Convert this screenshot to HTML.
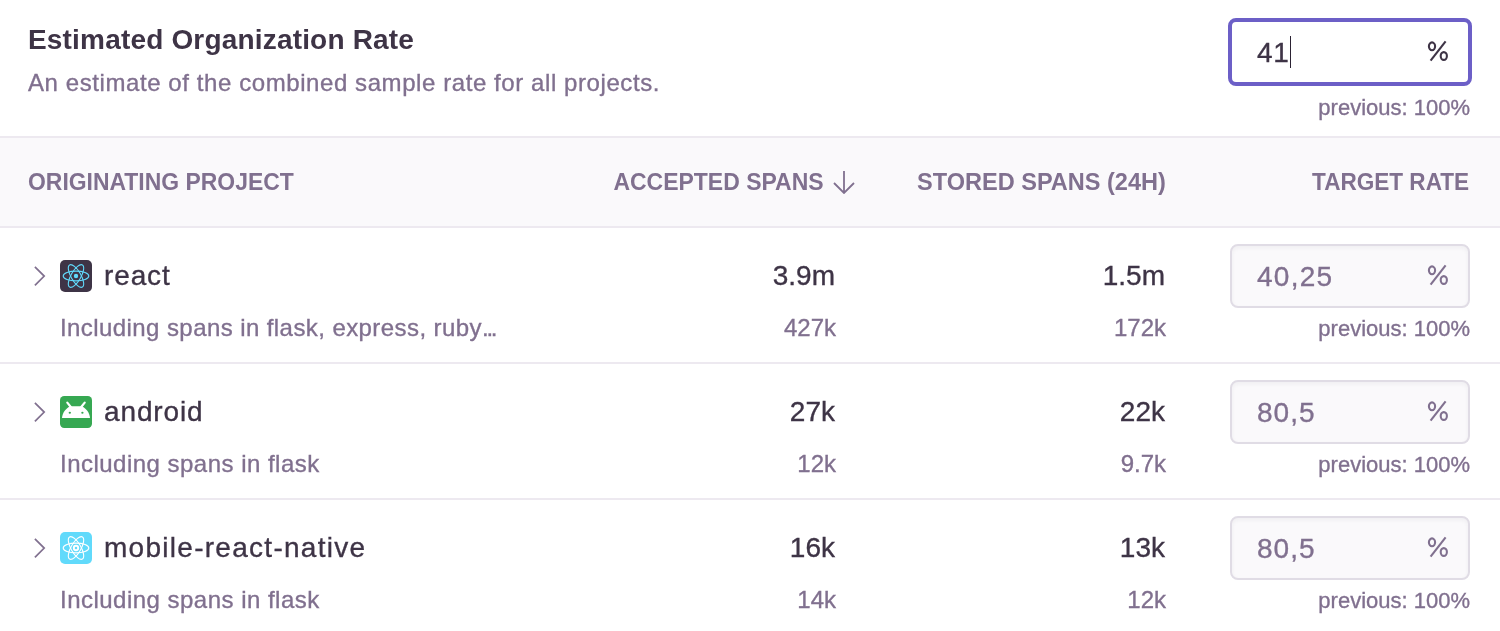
<!DOCTYPE html>
<html><head><meta charset="utf-8">
<style>
html,body{margin:0;padding:0;}
body{width:1500px;height:631px;overflow:hidden;background:#fff;position:relative;font-family:"Liberation Sans",sans-serif;color:#2B2233;}
.a{position:absolute;white-space:nowrap;line-height:1;}
.sw{-webkit-text-stroke:0.35px currentColor;}
.r{text-align:right;}
.hdrbg{position:absolute;left:0;top:136px;width:1500px;height:88px;background:#FAF9FB;border-top:2px solid #EDE9F0;border-bottom:2px solid #EDE9F0;}
.sep{position:absolute;left:0;width:1500px;height:2px;background:#EDE9F0;}
.title{left:28px;top:26px;font-size:28px;font-weight:bold;color:#3E3446;letter-spacing:0.18px;}
.sub{left:28px;top:71px;font-size:24px;color:#80708F;letter-spacing:0.58px;}
.th{top:170px;font-size:24px;font-weight:bold;color:#80708F;}
.name{font-size:28px;color:#3E3446;}
.desc{font-size:24px;color:#80708F;}
.num{font-size:28px;color:#3E3446;}
.snum{font-size:24px;color:#80708F;}
.inp{position:absolute;left:1230px;width:236px;height:60px;border:2px solid #E0DCE5;border-radius:8px;background:#FAF9FB;box-shadow:inset 0 2px 4px rgba(43,34,51,0.05);}
.finp{position:absolute;left:1228px;top:18px;width:236px;height:60px;border:4px solid #6C5FC7;border-radius:8px;background:#fff;}
.ival{font-size:28px;color:#80708F;}
.pct{transform:scaleX(0.87);transform-origin:left center;}
.prev{font-size:22px;color:#80708F;}
svg{position:absolute;}
#wrap{position:absolute;left:0;top:0;width:1500px;height:631px;overflow:hidden;will-change:transform;background:#fff;}
</style></head><body><div id="wrap">

<div class="a title">Estimated Organization Rate</div>
<div class="a sw sub">An estimate of the combined sample rate for all projects.</div>

<div class="finp"></div>
<div class="a sw ival" style="left:1257px;top:39px;color:#3E3446;letter-spacing:0.6px;">41</div>
<div style="position:absolute;left:1290px;top:36px;width:1px;height:32px;background:#2B2233;"></div>
<svg style="left:1426px;top:40px;" width="24" height="24" viewBox="0 0 24 24"><g fill="none" stroke="#3E3446" stroke-width="2.1"><ellipse cx="6" cy="6.3" rx="3.1" ry="3.9"/><ellipse cx="17.8" cy="16" rx="3.1" ry="3.9"/><path d="M4.6 20.6L19.6 1.4"/></g></svg>
<div class="a sw prev r" style="right:30px;top:97px;">previous: 100%</div>

<div class="hdrbg"></div>
<div class="a th" style="left:28px;transform:scaleX(0.955);transform-origin:left center;">ORIGINATING PROJECT</div>
<div class="a th r" style="right:676.5px;transform:scaleX(0.957);transform-origin:right center;">ACCEPTED SPANS</div>
<svg style="left:832px;top:170px;" width="24" height="24" viewBox="0 0 24 24"><path d="M12 1V23M2 13L12 23L22 13" fill="none" stroke="#80708F" stroke-width="1.8"/></svg>
<div class="a th r" style="right:334px;transform:scaleX(0.98);transform-origin:right center;">STORED SPANS (24H)</div>
<div class="a th r" style="right:31px;transform:scaleX(0.94);transform-origin:right center;">TARGET RATE</div>

<!-- row 1 -->
<svg style="left:28px;top:260px;" width="24" height="32" viewBox="0 0 24 32"><path d="M6.9 6.8L16.2 16.1L6.9 25.4" fill="none" stroke="#80708F" stroke-width="1.7"/></svg>
<svg style="left:60px;top:260px;" width="32" height="32" viewBox="0 0 32 32"><rect width="32" height="32" rx="5" fill="#3E3446"/><g fill="none" stroke="#61DAFB" stroke-width="1.1"><ellipse cx="16" cy="16" rx="12.8" ry="4.9"/><ellipse cx="16" cy="16" rx="12.8" ry="4.9" transform="rotate(60 16 16)"/><ellipse cx="16" cy="16" rx="12.8" ry="4.9" transform="rotate(120 16 16)"/></g><circle cx="16" cy="16" r="2.2" fill="#61DAFB"/></svg>
<div class="a sw name" style="left:104px;top:262px;letter-spacing:0.875px;">react</div>
<div class="a sw desc" style="left:60px;top:316px;letter-spacing:0.42px;">Including spans in flask, express, ruby<span style="letter-spacing:-2.2px">...</span></div>
<div class="a sw num r" style="right:665px;top:262px;">3.9m</div>
<div class="a sw snum r" style="right:664px;top:316px;">427k</div>
<div class="a sw num r" style="right:335px;top:262px;">1.5m</div>
<div class="a sw snum r" style="right:334px;top:316px;">172k</div>
<div class="inp" style="top:244px;"></div>
<div class="a sw ival" style="left:1257px;top:263px;letter-spacing:1.25px;">40,25</div>
<svg style="left:1426px;top:264px;" width="24" height="24" viewBox="0 0 24 24"><g fill="none" stroke="#80708F" stroke-width="2.1"><ellipse cx="6" cy="6.3" rx="3.1" ry="3.9"/><ellipse cx="17.8" cy="16" rx="3.1" ry="3.9"/><path d="M4.6 20.6L19.6 1.4"/></g></svg>
<div class="a sw prev r" style="right:30px;top:318px;">previous: 100%</div>
<div class="sep" style="top:362px;"></div>

<!-- row 2 -->
<svg style="left:28px;top:396px;" width="24" height="32" viewBox="0 0 24 32"><path d="M6.9 6.8L16.2 16.1L6.9 25.4" fill="none" stroke="#80708F" stroke-width="1.7"/></svg>
<svg style="left:60px;top:396px;" width="32" height="32" viewBox="0 0 32 32"><rect width="32" height="32" rx="4.2" fill="#36A852"/><path d="M2 22C2.5 17 5.5 12.5 10 10.6Q11 10.2 12.2 10.2H19.8Q21 10.2 22 10.6C26.5 12.5 29.5 17 30 22Z" fill="#fff"/><path d="M7.3 6.6L11 11.2M24.7 6.6L21 11.2" stroke="#fff" stroke-width="2.2" stroke-linecap="round"/><ellipse cx="9.8" cy="16.8" rx="1.15" ry="0.95" fill="#36A852"/><ellipse cx="22.4" cy="16.8" rx="1.15" ry="0.95" fill="#36A852"/></svg>
<div class="a sw name" style="left:104px;top:398px;letter-spacing:0.87px;">android</div>
<div class="a sw desc" style="left:60px;top:452px;letter-spacing:0.48px;">Including spans in flask</div>
<div class="a sw num r" style="right:665px;top:398px;">27k</div>
<div class="a sw snum r" style="right:664px;top:452px;">12k</div>
<div class="a sw num r" style="right:335px;top:398px;">22k</div>
<div class="a sw snum r" style="right:334px;top:452px;">9.7k</div>
<div class="inp" style="top:380px;"></div>
<div class="a sw ival" style="left:1257px;top:399px;letter-spacing:1.0px;">80,5</div>
<svg style="left:1426px;top:400px;" width="24" height="24" viewBox="0 0 24 24"><g fill="none" stroke="#80708F" stroke-width="2.1"><ellipse cx="6" cy="6.3" rx="3.1" ry="3.9"/><ellipse cx="17.8" cy="16" rx="3.1" ry="3.9"/><path d="M4.6 20.6L19.6 1.4"/></g></svg>
<div class="a sw prev r" style="right:30px;top:454px;">previous: 100%</div>
<div class="sep" style="top:498px;"></div>

<!-- row 3 -->
<svg style="left:28px;top:532px;" width="24" height="32" viewBox="0 0 24 32"><path d="M6.9 6.8L16.2 16.1L6.9 25.4" fill="none" stroke="#80708F" stroke-width="1.7"/></svg>
<svg style="left:60px;top:532px;" width="32" height="32" viewBox="0 0 32 32"><rect width="32" height="32" rx="5" fill="#61DAFB"/><g fill="none" stroke="#fff" stroke-width="1.1"><ellipse cx="16" cy="16" rx="12.8" ry="4.9"/><ellipse cx="16" cy="16" rx="12.8" ry="4.9" transform="rotate(60 16 16)"/><ellipse cx="16" cy="16" rx="12.8" ry="4.9" transform="rotate(120 16 16)"/></g><circle cx="16" cy="16" r="2.2" fill="none" stroke="#fff" stroke-width="1.9"/></svg>
<div class="a sw name" style="left:104px;top:534px;letter-spacing:1.28px;">mobile-react-native</div>
<div class="a sw desc" style="left:60px;top:588px;letter-spacing:0.48px;">Including spans in flask</div>
<div class="a sw num r" style="right:665px;top:534px;">16k</div>
<div class="a sw snum r" style="right:664px;top:588px;">14k</div>
<div class="a sw num r" style="right:335px;top:534px;">13k</div>
<div class="a sw snum r" style="right:334px;top:588px;">12k</div>
<div class="inp" style="top:516px;"></div>
<div class="a sw ival" style="left:1257px;top:535px;letter-spacing:1.0px;">80,5</div>
<svg style="left:1426px;top:536px;" width="24" height="24" viewBox="0 0 24 24"><g fill="none" stroke="#80708F" stroke-width="2.1"><ellipse cx="6" cy="6.3" rx="3.1" ry="3.9"/><ellipse cx="17.8" cy="16" rx="3.1" ry="3.9"/><path d="M4.6 20.6L19.6 1.4"/></g></svg>
<div class="a sw prev r" style="right:30px;top:590px;">previous: 100%</div>

</div></body></html>
